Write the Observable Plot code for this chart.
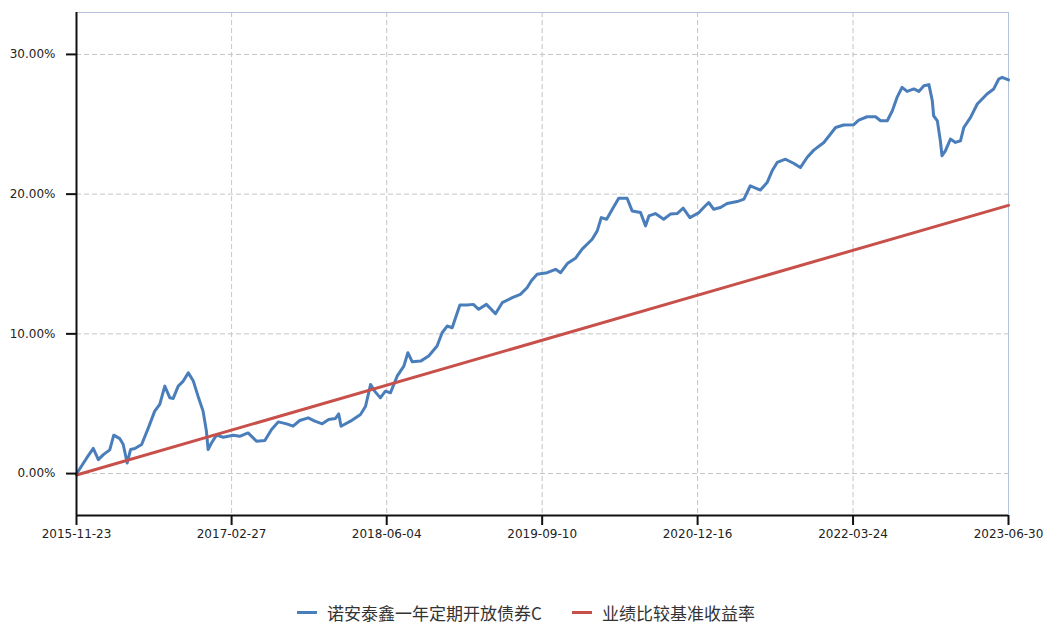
<!DOCTYPE html>
<html>
<head>
<meta charset="utf-8">
<script src="https://cdn.jsdelivr.net/npm/d3@7"></script>
<script src="https://cdn.jsdelivr.net/npm/@observablehq/plot@0.6"></script>
<style>
  html, body { margin: 0; padding: 0; background: #fff; }
  #chart { width: 1048px; height: 600px; }
  #legend { position: relative; height: 27px; font-family: "Noto Sans CJK SC", "Noto Sans", sans-serif; font-size: 17px; color: #333; }
  .item { position: absolute; top: 0; display: flex; align-items: center; height: 24px; white-space: nowrap; }
  .sw { width: 20px; height: 3px; margin-right: 10px; }
</style>
</head>
<body>
<div id="chart"></div>
<div id="legend"></div>
<script>
const seriesNames = ["诺安泰鑫一年定期开放债券C", "业绩比较基准收益率"];
const seriesColors = ["#4a7ebb", "#c8504b"];

const fundDates = [
  "2015-11-23","2015-11-28","2015-12-23","2016-01-12","2016-01-27","2016-02-11","2016-03-01","2016-03-13","2016-03-31",
  "2016-04-10","2016-04-22","2016-05-02","2016-05-15","2016-06-04","2016-06-24","2016-07-13","2016-07-28","2016-08-12",
  "2016-08-27","2016-09-06","2016-09-21","2016-10-06","2016-10-21","2016-11-05","2016-11-19","2016-12-04","2016-12-14",
  "2016-12-19","2016-12-29","2017-01-13","2017-02-02","2017-03-04","2017-03-23","2017-04-17","2017-05-12","2017-06-06",
  "2017-06-26","2017-07-16","2017-08-10","2017-08-29","2017-09-18","2017-10-13","2017-11-02","2017-11-24","2017-12-13",
  "2018-01-02","2018-01-12","2018-01-19","2018-02-16","2018-03-18","2018-04-02","2018-04-17","2018-04-29","2018-05-16",
  "2018-05-31","2018-06-15","2018-07-05","2018-07-25","2018-08-06","2018-08-19","2018-09-13","2018-10-07","2018-11-01",
  "2018-11-16","2018-12-01","2018-12-16","2018-12-26","2019-01-08","2019-01-30","2019-02-17","2019-03-05","2019-03-28",
  "2019-04-24","2019-05-14","2019-06-13","2019-07-07","2019-07-27","2019-08-09","2019-08-26","2019-09-25","2019-10-20",
  "2019-11-04","2019-11-24","2019-12-18","2020-01-07","2020-02-06","2020-02-21","2020-03-04","2020-03-20","2020-04-06",
  "2020-04-25","2020-05-20","2020-06-04","2020-06-29","2020-07-14","2020-07-24","2020-08-12","2020-09-06","2020-09-26",
  "2020-10-16","2020-11-03","2020-11-23","2020-12-20","2021-01-03","2021-01-18","2021-02-02","2021-02-22","2021-03-14",
  "2021-04-13","2021-05-03","2021-05-22","2021-06-21","2021-07-11","2021-07-26","2021-08-10","2021-09-04","2021-09-29",
  "2021-10-18","2021-11-07","2021-11-27","2021-12-27","2022-01-16","2022-01-31","2022-02-24","2022-03-26","2022-04-10",
  "2022-05-05","2022-05-30","2022-06-14","2022-07-04","2022-07-19","2022-08-02","2022-08-17","2022-09-01","2022-09-21",
  "2022-10-06","2022-10-21","2022-11-05","2022-11-15","2022-11-19","2022-11-30","2022-12-09","2022-12-14","2022-12-24",
  "2023-01-08","2023-01-23","2023-02-07","2023-02-17","2023-03-09","2023-03-29","2023-04-27","2023-05-17","2023-06-01",
  "2023-06-11","2023-06-30"
];
const fundValues = [
  0.00,0.17,1.10,1.80,1.00,1.36,1.70,2.75,2.50,
  2.10,0.76,1.72,1.79,2.08,3.27,4.47,4.95,6.26,
  5.42,5.38,6.26,6.62,7.21,6.62,5.54,4.47,3.03,
  1.72,2.19,2.75,2.60,2.75,2.67,2.91,2.32,2.37,
  3.15,3.70,3.56,3.39,3.80,3.99,3.75,3.56,3.87,
  3.94,4.27,3.39,3.75,4.23,4.82,6.38,5.90,5.42,
  5.90,5.78,6.97,7.69,8.65,8.00,8.05,8.41,9.13,
  10.08,10.56,10.44,11.15,12.06,12.06,12.11,11.76,12.11,
  11.44,12.23,12.59,12.83,13.30,13.80,14.27,14.38,14.62,
  14.38,15.03,15.41,16.06,16.77,17.37,18.32,18.20,18.92,
  19.71,19.71,18.80,18.68,17.73,18.44,18.61,18.20,18.57,
  18.61,19.00,18.32,18.68,19.04,19.40,18.92,19.04,19.33,
  19.47,19.64,20.60,20.29,20.83,21.67,22.27,22.50,22.19,
  21.90,22.62,23.15,23.70,24.30,24.77,24.95,24.97,25.30,
  25.54,25.54,25.25,25.25,25.97,26.92,27.64,27.35,27.53,
  27.35,27.76,27.84,26.69,25.61,25.25,23.82,22.75,23.10,
  23.94,23.70,23.82,24.77,25.49,26.45,27.17,27.53,28.24,
  28.36,28.17
];

const benchDates = ["2015-11-23", "2023-06-30"];
const benchValues = [-0.1, 19.2];

const xTickLabels = ["2015-11-23","2017-02-27","2018-06-04","2019-09-10","2020-12-16","2022-03-24","2023-06-30"];
const yTickValues = [0, 10, 20, 30];
const yDomain = [-3, 33];

const parse = d3.utcParse("%Y-%m-%d");
const fmt = d3.utcFormat("%Y-%m-%d");

const rows = [];
fundDates.forEach((d, i) => rows.push({date: parse(d), value: fundValues[i], series: seriesNames[0]}));
benchDates.forEach((d, i) => rows.push({date: parse(d), value: benchValues[i], series: seriesNames[1]}));

const xTicks = xTickLabels.map(parse);
const xDomain = [xTicks[0], xTicks[xTicks.length - 1]];

const chart = Plot.plot({
  width: 1048,
  height: 600,
  marginLeft: 76,
  marginRight: 40,
  marginTop: 12,
  marginBottom: 85,
  style: {fontFamily: "DejaVu Sans, sans-serif", fontSize: "12px", color: "#222", background: "#fff"},
  x: {type: "utc", domain: xDomain},
  y: {domain: yDomain},
  color: {domain: seriesNames, range: seriesColors},
  marks: [
    Plot.gridX(xTicks, {stroke: "#c4c4c4", strokeOpacity: 1, strokeDasharray: "5,3"}),
    Plot.gridY(yTickValues, {stroke: "#c4c4c4", strokeOpacity: 1, strokeDasharray: "5,3"}),
    Plot.frame({stroke: "#b4c2dc"}),
    Plot.lineY(rows, {x: "date", y: "value", z: "series", stroke: "series", strokeWidth: 3, strokeLinejoin: "round"}),
    Plot.axisY(yTickValues, {tickSize: 10, tickPadding: 11, tickFormat: d => d.toFixed(2) + "%", label: null, stroke: "#111", strokeWidth: 2}),
    Plot.axisX(xTicks, {tickSize: 10, tickPadding: 4, tickFormat: fmt, label: null, stroke: "#111", strokeWidth: 2}),
    Plot.ruleX([xDomain[0]], {stroke: "#111", strokeWidth: 2}),
    Plot.ruleY([yDomain[0]], {stroke: "#111", strokeWidth: 2})
  ]
});
document.getElementById("chart").appendChild(chart);

const legend = document.getElementById("legend");
const lefts = [297, 572];
seriesNames.forEach((name, i) => {
  const it = document.createElement("div");
  it.className = "item";
  it.style.left = lefts[i] + "px";
  const sw = document.createElement("span");
  sw.className = "sw";
  sw.style.background = seriesColors[i];
  const tx = document.createElement("span");
  tx.textContent = name;
  it.appendChild(sw);
  it.appendChild(tx);
  legend.appendChild(it);
});
</script>
</body>
</html>
